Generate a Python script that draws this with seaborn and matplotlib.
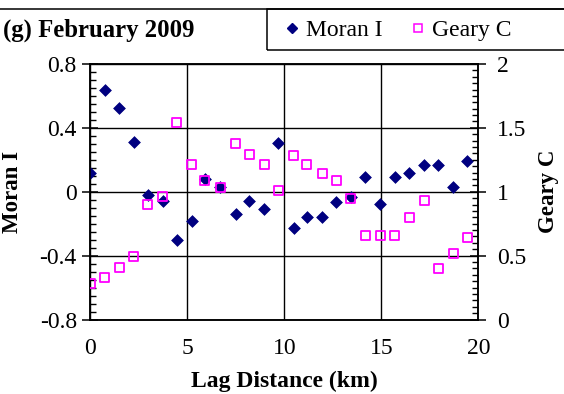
import matplotlib
matplotlib.use("Agg")
import matplotlib.pyplot as plt
import seaborn as sns
import pandas as pd
from matplotlib.ticker import MultipleLocator
from matplotlib.patches import Rectangle
from matplotlib.lines import Line2D

lag_km = [0, 0.76, 1.5, 2.25, 2.97, 3.75, 4.46, 5.24, 5.91, 6.7, 7.5, 8.2, 8.97,
          9.69, 10.48, 11.17, 11.95, 12.68, 13.43, 14.16, 14.93, 15.7, 16.43,
          17.2, 17.92, 18.69, 19.43]
moran_i = [0.115, 0.636, 0.527, 0.314, -0.021, -0.06, -0.30, -0.186, 0.081, 0.029,
           -0.142, -0.058, -0.108, 0.306, -0.227, -0.16, -0.16, -0.067, -0.033,
           0.094, -0.077, 0.094, 0.115, 0.167, 0.167, 0.029, 0.192]
geary_c = [0.279, 0.33, 0.41, 0.49, 0.90, 0.96, 1.54, 1.21, 1.09, 1.03, 1.38, 1.29,
           1.21, 1.01, 1.28, 1.21, 1.14, 1.09, 0.95, 0.66, 0.66, 0.66, 0.80, 0.93,
           0.40, 0.52, 0.64]

df = pd.DataFrame({"lag": lag_km, "moran": moran_i, "geary": geary_c})

sns.set_style("white")
plt.rcParams["font.family"] = ["Liberation Serif", "DejaVu Serif"]
plt.rcParams["axes.linewidth"] = 1.1
plt.rcParams["text.color"] = "black"
plt.rcParams["axes.labelcolor"] = "black"
plt.rcParams["xtick.color"] = "black"
plt.rcParams["ytick.color"] = "black"

W, H = 564, 394
fig = plt.figure(figsize=(W / 100, H / 100), dpi=100)
L, R, T, B = 90, 478.5, 64, 319.5
ax = fig.add_axes([L / W, 1 - B / H, (R - L) / W, (B - T) / H])
ax2 = ax.twinx()

sns.scatterplot(data=df, x="lag", y="moran", ax=ax, marker="D", s=36,
                color="#000080", edgecolor="#000080", linewidth=0.5,
                label="Moran I", legend=False, zorder=3)
sns.scatterplot(data=df, x="lag", y="geary", ax=ax2, marker="s", s=42,
                facecolor="none", edgecolor="#FF00FF", linewidth=1.3,
                label="Geary C", legend=False, zorder=3)

ax.set_xlim(0, 20)
ax.set_ylim(-0.8, 0.8)
ax2.set_ylim(0, 2)
ax.xaxis.set_major_locator(MultipleLocator(5))
ax.xaxis.set_minor_locator(MultipleLocator(1))
ax.yaxis.set_minor_locator(MultipleLocator(0.05))
ax2.yaxis.set_minor_locator(MultipleLocator(0.05))
ax.set_yticks([-0.8, -0.4, 0, 0.4, 0.8])
ax.set_yticklabels(["-0.8", "-0.4", "0", "0.4", "0.8"])
ax2.set_yticks([0, 0.5, 1, 1.5, 2])
ax2.set_yticklabels(["0", "0.5", "1", "1.5", "2"])

ax.grid(True, which="major", color="black", linewidth=1.0)
ax.set_axisbelow(True)
for a in (ax, ax2):
    for s in a.spines.values():
        s.set_visible(True)
        s.set_color("black")
        s.set_linewidth(1.1)

ax.tick_params(axis="both", which="major", direction="inout", length=11, width=1.1,
               labelsize=17, colors="black")
ax.tick_params(axis="x", which="major", pad=8)
ax.tick_params(axis="y", which="major", pad=4)
ax.tick_params(axis="both", which="minor", direction="in", length=4, width=1.0)
ax2.tick_params(axis="y", which="major", direction="inout", length=11, width=1.1,
                labelsize=17, pad=8, colors="black")
ax2.tick_params(axis="y", which="minor", direction="in", length=4, width=1.0)

ax.set_xlabel("Lag Distance (km)", fontsize=17, fontweight="bold", color="black")
ax.set_ylabel("Moran I", fontsize=16.5, fontweight="bold", color="black")
ax2.set_ylabel("Geary C", fontsize=16.5, fontweight="bold", color="black", labelpad=8)
ax.xaxis.set_label_coords(0.5, -0.2)
ax.yaxis.set_label_coords(-0.172, 0.5)

fig.text(3 / W, 1 - 30 / H, "(g) February 2009", fontsize=17.8, fontweight="bold",
         ha="left", va="center", color="black")

fig.add_artist(Line2D([0, 1], [1 - 9 / H, 1 - 9 / H], color="black", linewidth=1.1,
                      transform=fig.transFigure))
fig.add_artist(Rectangle((267 / W, 1 - 50 / H), (W + 10 - 267) / W, 41 / H,
                         transform=fig.transFigure, fill=False, edgecolor="black",
                         linewidth=1.1))

h1 = [Line2D([], [], marker="D", linestyle="none", color="#000080", markersize=5)]
h2 = [Line2D([], [], marker="s", linestyle="none", markerfacecolor="none",
             markeredgecolor="#FF00FF", markersize=6, markeredgewidth=1.1)]
fig.legend(h1 + h2, ["Moran I", "Geary C"], loc="center left",
           bbox_to_anchor=(280 / W, 1 - 30 / H), ncol=2, frameon=False,
           fontsize=17, handletextpad=0.1, columnspacing=1.0, handlelength=1.0,
           borderpad=0, borderaxespad=0)

fig.savefig("out.png", dpi=100)
